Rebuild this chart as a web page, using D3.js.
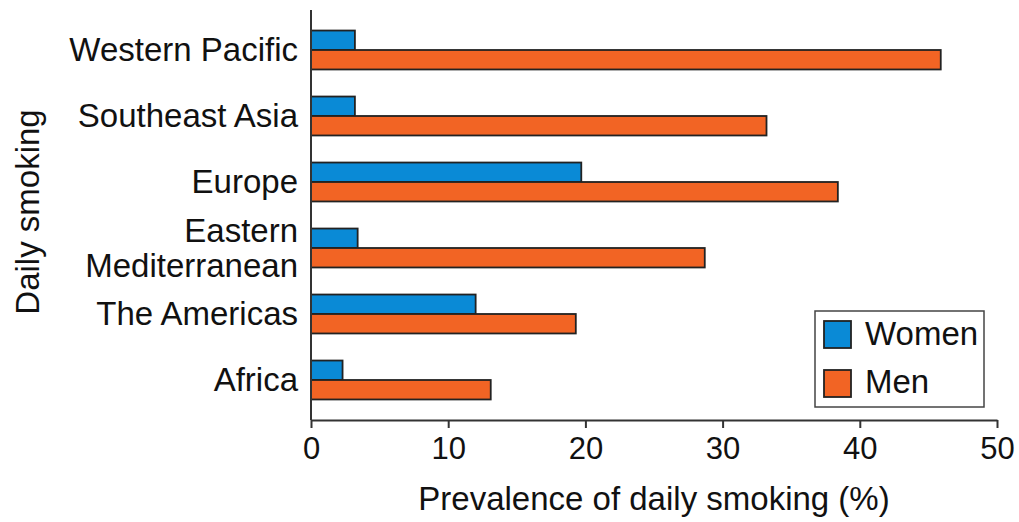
<!DOCTYPE html>
<html>
<head>
<meta charset="utf-8">
<script src="https://cdn.jsdelivr.net/npm/d3@7"></script>
<style>
  body { margin: 0; background: #fff; }
  svg text { font-family: "Liberation Sans", Arial, sans-serif; fill: #111; }
</style>
</head>
<body>
<div id="graphicContainer"></div>
<script>
// regions top to bottom
var regions = ["Western Pacific", "Southeast Asia", "Europe", "Eastern Mediterranean", "The Americas", "Africa"]
var series = ["Women", "Men"]
var women = [3.2, 3.2, 19.7, 3.4, 12.0, 2.3]
var men = [45.9, 33.2, 38.4, 28.7, 19.3, 13.1]
var xTicks = [0, 10, 20, 30, 40, 50]

var colors = { Women: "#0a8ad6", Men: "#f26424" }

var width = 1019, height = 522

var svg = d3.select("#graphicContainer").append("svg")
  .attr("width", width)
  .attr("height", height)

var x = d3.scaleLinear().domain([0, 50]).range([311, 997])
var y = d3.scaleBand().domain(regions).range([17, 413]).paddingInner(0.41).paddingOuter(0.205)
var ySub = d3.scaleBand().domain(series).range([0, y.bandwidth()])

var data = regions.map(function (r, i) {
  return { region: r, Women: women[i], Men: men[i] }
})

// bars
var groups = svg.selectAll(".group")
  .data(data)
  .enter().append("g")
  .attr("class", "group")
  .attr("transform", function (d) { return "translate(0," + y(d.region) + ")" })

groups.selectAll("rect")
  .data(function (d) { return series.map(function (s) { return { key: s, value: d[s] } }) })
  .enter().append("rect")
  .attr("x", x(0))
  .attr("y", function (d) { return ySub(d.key) })
  .attr("width", function (d) { return x(d.value) - x(0) })
  .attr("height", ySub.bandwidth())
  .attr("fill", function (d) { return colors[d.key] })
  .attr("stroke", "#222")
  .attr("stroke-width", 1.8)

// y axis line
svg.append("line")
  .attr("x1", x(0)).attr("x2", x(0))
  .attr("y1", 10).attr("y2", 420)
  .attr("stroke", "#333").attr("stroke-width", 2)

// x axis
var xAxis = d3.axisBottom(x).tickValues(xTicks).tickSize(8).tickPadding(8).tickSizeOuter(0)
var gx = svg.append("g")
  .attr("transform", "translate(0,420)")
  .call(xAxis)
gx.select(".domain").attr("stroke", "#333").attr("stroke-width", 2)
gx.selectAll(".tick line").attr("stroke", "#333").attr("stroke-width", 2)
gx.selectAll(".tick text").style("font-size", "31px").attr("fill", "#111").attr("dy", "0.75em")

// category labels
svg.selectAll(".catLabel")
  .data(regions)
  .enter().append("text")
  .attr("class", "catLabel")
  .attr("text-anchor", "end")
  .style("font-size", "33px")
  .each(function (d) {
    var t = d3.select(this)
    var cy = y(d) + y.bandwidth() / 2
    if (d === "Eastern Mediterranean") {
      t.append("tspan").attr("x", 298).attr("y", cy - 6).text("Eastern")
      t.append("tspan").attr("x", 298).attr("y", cy + 29).text("Mediterranean")
    } else {
      t.attr("x", 298).attr("y", cy + 11).text(d)
    }
  })

// axis titles
svg.append("text")
  .attr("x", 654).attr("y", 510)
  .attr("text-anchor", "middle")
  .style("font-size", "33px")
  .text("Prevalence of daily smoking (%)")

svg.append("text")
  .attr("transform", "translate(39,212) rotate(-90)")
  .attr("text-anchor", "middle")
  .style("font-size", "33px")
  .text("Daily smoking")

// legend
var legend = svg.append("g").attr("transform", "translate(815,311)")
legend.append("rect")
  .attr("width", 169).attr("height", 96)
  .attr("fill", "#fff").attr("stroke", "#444").attr("stroke-width", 1.5)

series.forEach(function (s, i) {
  legend.append("rect")
    .attr("x", 9).attr("y", 10 + i * 49)
    .attr("width", 27).attr("height", 27)
    .attr("fill", colors[s]).attr("stroke", "#222").attr("stroke-width", 1.8)
  legend.append("text")
    .attr("x", 50).attr("y", 34 + i * 48)
    .style("font-size", "33px")
    .text(s)
})
</script>
</body>
</html>
